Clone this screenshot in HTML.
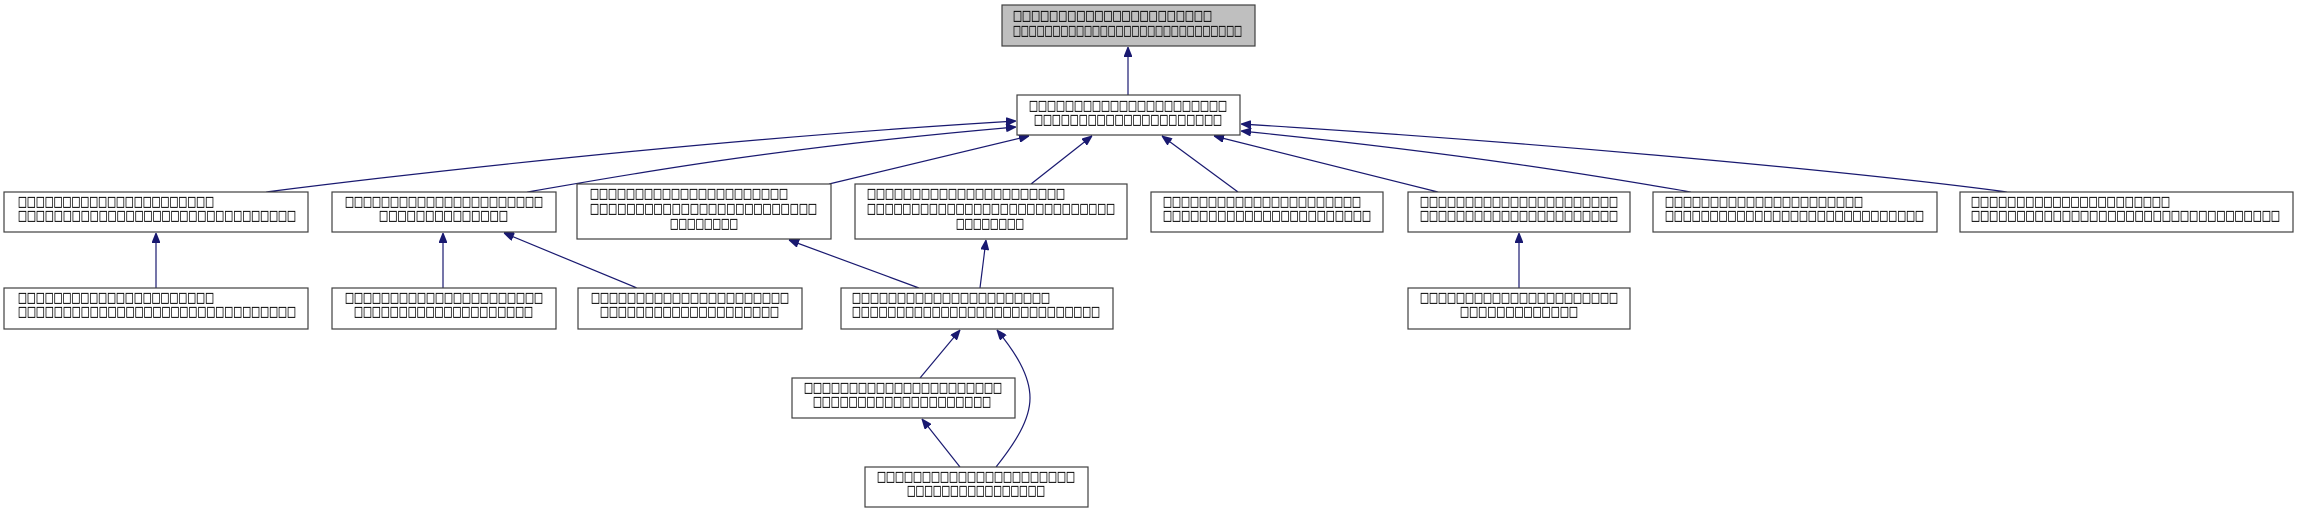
<!DOCTYPE html>
<html><head><meta charset="utf-8"><style>
html,body{margin:0;padding:0;background:#fff;}
svg{display:block;}
text{font-family:"DejaVu Sans","Liberation Sans",sans-serif;font-size:14px;fill:#000;stroke:#000;stroke-width:0.3;}
.n{fill:#fff;stroke:#404040;stroke-width:1.2;}
.e{fill:none;stroke:#191970;stroke-width:1.2;}
</style></head><body>
<svg width="2297" height="513" viewBox="0 0 2297 513" xmlns="http://www.w3.org/2000/svg">
<defs>
<marker id="a" viewBox="0 0 10 8" refX="10" refY="4" markerWidth="10" markerHeight="8" markerUnits="userSpaceOnUse" orient="auto">
<path d="M0,0 L10,4 L0,8 Z" fill="#191970" stroke="#191970"/>
</marker>
</defs>

<path class="e" marker-end="url(#a)" d="M1128,95 L1128,47"/>
<path class="e" marker-end="url(#a)" d="M266,192 C400,175 700,140 1016,121"/>
<path class="e" marker-end="url(#a)" d="M527,192 C600,180 750,150 1016,127"/>
<path class="e" marker-end="url(#a)" d="M829,184 L1029,136"/>
<path class="e" marker-end="url(#a)" d="M1031,184 L1092,136"/>
<path class="e" marker-end="url(#a)" d="M1238,192 L1162,136"/>
<path class="e" marker-end="url(#a)" d="M1438,192 L1214,136"/>
<path class="e" marker-end="url(#a)" d="M1691,192 C1620,180 1480,155 1241,131"/>
<path class="e" marker-end="url(#a)" d="M2007,192 C1880,175 1580,145 1241,124"/>
<path class="e" marker-end="url(#a)" d="M156,288 L156,233"/>
<path class="e" marker-end="url(#a)" d="M443,288 L443,233"/>
<path class="e" marker-end="url(#a)" d="M637,288 L504,233"/>
<path class="e" marker-end="url(#a)" d="M919,288 L789,240"/>
<path class="e" marker-end="url(#a)" d="M980,288 L986,240"/>
<path class="e" marker-end="url(#a)" d="M920,378 L960,330"/>
<path class="e" marker-end="url(#a)" d="M996,467 C1015,443 1030,420 1030,398 C1030,375 1015,352 997,330"/>
<path class="e" marker-end="url(#a)" d="M960,467 L922,419"/>
<path class="e" marker-end="url(#a)" d="M1519,288 L1519,233"/>

<rect x="1002" y="5" width="253" height="41" fill="#bfbfbf" stroke="#404040" stroke-width="1.2"/>
<text x="1013" y="20" textLength="199" lengthAdjust="spacingAndGlyphs">□□□□□□□□□□□□□□□□□□□□□□</text>
<text x="1013" y="35" textLength="229" lengthAdjust="spacingAndGlyphs">□□□□□□□□□□□□□□□□□□□□□□□□□□□□□</text>

<rect class="n" x="1017" y="95" width="223" height="40"/>
<text x="1029" y="110" textLength="198" lengthAdjust="spacingAndGlyphs">□□□□□□□□□□□□□□□□□□□□□□</text>
<text x="1034" y="124" textLength="188" lengthAdjust="spacingAndGlyphs">□□□□□□□□□□□□□□□□□□□□□</text>

<rect class="n" x="4" y="192" width="304" height="40"/>
<text x="18" y="206" textLength="196" lengthAdjust="spacingAndGlyphs">□□□□□□□□□□□□□□□□□□□□□□</text>
<text x="18" y="220" textLength="278" lengthAdjust="spacingAndGlyphs">□□□□□□□□□□□□□□□□□□□□□□□□□□□□□□□</text>

<rect class="n" x="332" y="192" width="224" height="40"/>
<text x="345" y="206" textLength="198" lengthAdjust="spacingAndGlyphs">□□□□□□□□□□□□□□□□□□□□□□</text>
<text x="379" y="220" textLength="129" lengthAdjust="spacingAndGlyphs">□□□□□□□□□□□□□□</text>

<rect class="n" x="577" y="184" width="254" height="55"/>
<text x="590" y="198" textLength="198" lengthAdjust="spacingAndGlyphs">□□□□□□□□□□□□□□□□□□□□□□</text>
<text x="590" y="213" textLength="227" lengthAdjust="spacingAndGlyphs">□□□□□□□□□□□□□□□□□□□□□□□□□</text>
<text x="670" y="228" textLength="68" lengthAdjust="spacingAndGlyphs">□□□□□□□□</text>

<rect class="n" x="855" y="184" width="272" height="55"/>
<text x="867" y="198" textLength="198" lengthAdjust="spacingAndGlyphs">□□□□□□□□□□□□□□□□□□□□□□</text>
<text x="867" y="213" textLength="248" lengthAdjust="spacingAndGlyphs">□□□□□□□□□□□□□□□□□□□□□□□□□□□□</text>
<text x="956" y="228" textLength="68" lengthAdjust="spacingAndGlyphs">□□□□□□□□</text>

<rect class="n" x="1151" y="192" width="232" height="40"/>
<text x="1163" y="206" textLength="198" lengthAdjust="spacingAndGlyphs">□□□□□□□□□□□□□□□□□□□□□□</text>
<text x="1163" y="220" textLength="208" lengthAdjust="spacingAndGlyphs">□□□□□□□□□□□□□□□□□□□□□□□</text>

<rect class="n" x="1408" y="192" width="222" height="40"/>
<text x="1420" y="206" textLength="198" lengthAdjust="spacingAndGlyphs">□□□□□□□□□□□□□□□□□□□□□□</text>
<text x="1420" y="220" textLength="198" lengthAdjust="spacingAndGlyphs">□□□□□□□□□□□□□□□□□□□□□□</text>

<rect class="n" x="1653" y="192" width="284" height="40"/>
<text x="1665" y="206" textLength="198" lengthAdjust="spacingAndGlyphs">□□□□□□□□□□□□□□□□□□□□□□</text>
<text x="1665" y="220" textLength="259" lengthAdjust="spacingAndGlyphs">□□□□□□□□□□□□□□□□□□□□□□□□□□□□□</text>

<rect class="n" x="1960" y="192" width="333" height="40"/>
<text x="1971" y="206" textLength="199" lengthAdjust="spacingAndGlyphs">□□□□□□□□□□□□□□□□□□□□□□</text>
<text x="1971" y="220" textLength="309" lengthAdjust="spacingAndGlyphs">□□□□□□□□□□□□□□□□□□□□□□□□□□□□□□□□□□</text>

<rect class="n" x="4" y="288" width="304" height="41"/>
<text x="18" y="302" textLength="196" lengthAdjust="spacingAndGlyphs">□□□□□□□□□□□□□□□□□□□□□□</text>
<text x="18" y="316" textLength="278" lengthAdjust="spacingAndGlyphs">□□□□□□□□□□□□□□□□□□□□□□□□□□□□□□□</text>

<rect class="n" x="332" y="288" width="224" height="41"/>
<text x="345" y="302" textLength="198" lengthAdjust="spacingAndGlyphs">□□□□□□□□□□□□□□□□□□□□□□</text>
<text x="354" y="316" textLength="179" lengthAdjust="spacingAndGlyphs">□□□□□□□□□□□□□□□□□□□□</text>

<rect class="n" x="578" y="288" width="224" height="41"/>
<text x="591" y="302" textLength="198" lengthAdjust="spacingAndGlyphs">□□□□□□□□□□□□□□□□□□□□□□</text>
<text x="600" y="316" textLength="179" lengthAdjust="spacingAndGlyphs">□□□□□□□□□□□□□□□□□□□□</text>

<rect class="n" x="841" y="288" width="272" height="41"/>
<text x="852" y="302" textLength="198" lengthAdjust="spacingAndGlyphs">□□□□□□□□□□□□□□□□□□□□□□</text>
<text x="852" y="316" textLength="248" lengthAdjust="spacingAndGlyphs">□□□□□□□□□□□□□□□□□□□□□□□□□□□□</text>

<rect class="n" x="1408" y="288" width="222" height="41"/>
<text x="1420" y="302" textLength="198" lengthAdjust="spacingAndGlyphs">□□□□□□□□□□□□□□□□□□□□□□</text>
<text x="1460" y="316" textLength="118" lengthAdjust="spacingAndGlyphs">□□□□□□□□□□□□□</text>

<rect class="n" x="792" y="378" width="223" height="40"/>
<text x="804" y="392" textLength="198" lengthAdjust="spacingAndGlyphs">□□□□□□□□□□□□□□□□□□□□□□</text>
<text x="813" y="406" textLength="178" lengthAdjust="spacingAndGlyphs">□□□□□□□□□□□□□□□□□□□□</text>

<rect class="n" x="865" y="467" width="223" height="40"/>
<text x="877" y="481" textLength="198" lengthAdjust="spacingAndGlyphs">□□□□□□□□□□□□□□□□□□□□□□</text>
<text x="907" y="495" textLength="138" lengthAdjust="spacingAndGlyphs">□□□□□□□□□□□□□□□□</text>
</svg>
</body></html>
